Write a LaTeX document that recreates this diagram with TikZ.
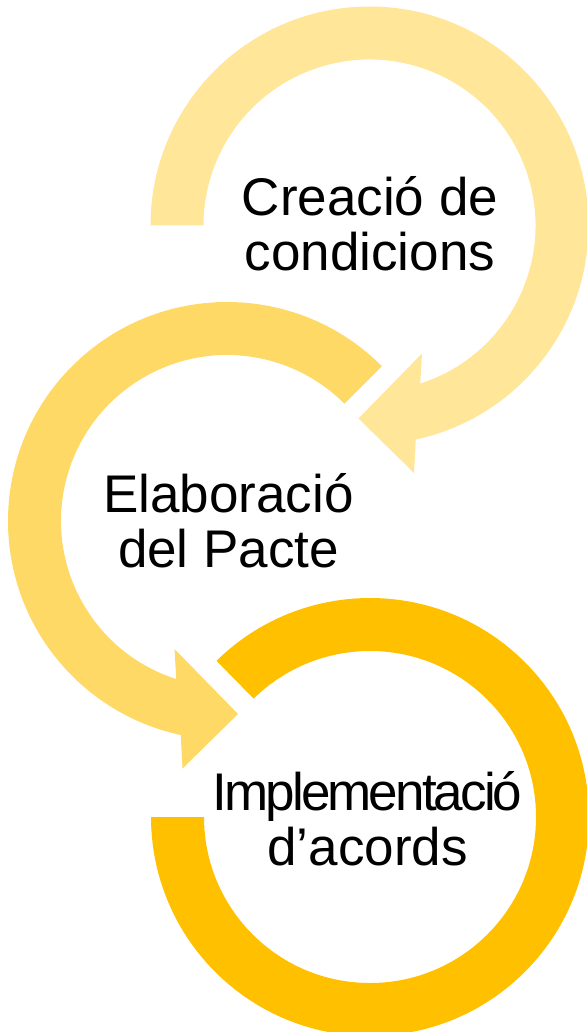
\documentclass[tikz,border=0pt]{standalone}
\usepackage{fontspec}
\newfontfamily\arialf{Liberation Sans}
\newfontfamily\arialtight[LetterSpace=-5.5]{Liberation Sans}
\usetikzlibrary{calc}
\definecolor{goldA}{HTML}{FFE699}
\definecolor{goldB}{HTML}{FFD966}
\definecolor{goldC}{HTML}{FFC000}
\tikzset{
  ringA/.style={fill=goldA, draw=none},
  ringB/.style={fill=goldB, draw=none},
  ringC/.style={fill=goldC, draw=none},
  label/.style={align=center, anchor=base, inner sep=0pt, font=\arialf\fontsize{53}{55}\selectfont, text=black}
}
\begin{document}
\begin{tikzpicture}[x=1pt,y=1pt]
\useasboundingbox (0,0) rectangle (587,-1032);
\clip (0,0) rectangle (587,-1032);
\coordinate (C1) at (369.5,-225.5);
\coordinate (C2) at (227,-521);
\coordinate (C3) at (370,-817);
% circle 1
\fill[ringA] ($(C1)+(180:219)$) arc[start angle=180, end angle=-77.8, radius=219]
  -- ($(C1)+(44.5,-247.5)$) -- ($(C1)+(-11,-193)$) -- ($(C1)+(52.5,-128)$)
  -- ($(C1)+(-72.2:166)$) arc[start angle=-72.2, end angle=180, radius=166] -- cycle;
% circle 2
\fill[ringB] ($(C2)+(45:219)$) arc[start angle=45, end angle=257.8, radius=219]
  -- ($(C2)+(-44.5,-247.5)$) -- ($(C2)+(11,-193)$) -- ($(C2)+(-52.5,-128)$)
  -- ($(C2)+(252.2:166)$) arc[start angle=252.2, end angle=45, radius=166] -- cycle;
% circle 3
\fill[ringC] ($(C3)+(134.5:219)$) arc[start angle=134.5, end angle=-180, radius=219]
  -- ($(C3)+(180:166)$) arc[start angle=-180, end angle=134.5, radius=166] -- cycle;
\node[label] (t1) at (370,-270) {Creació de\\condicions};
\node[label] (t2) at (228.5,-567) {Elaboració\\del Pacte};
\node[label] (t3) at (367.5,-865) {{\arialtight Implementació}\\d’acords};
\end{tikzpicture}
\end{document}
